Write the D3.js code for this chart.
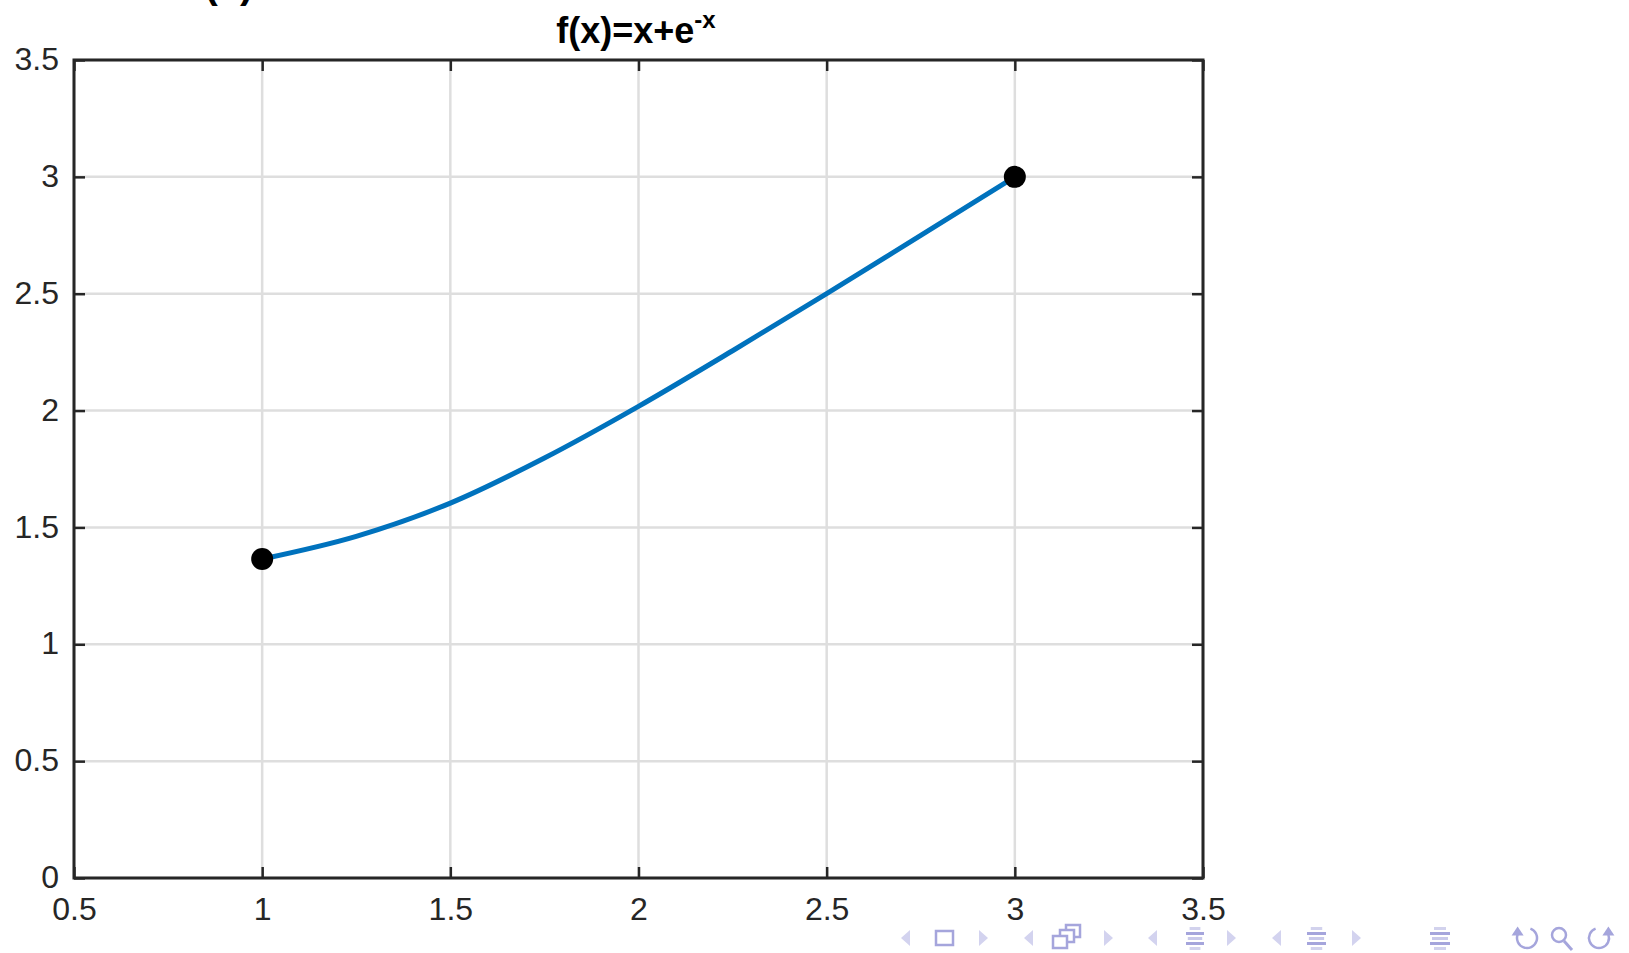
<!DOCTYPE html>
<html>
<head>
<meta charset="utf-8">
<script src="https://cdn.jsdelivr.net/npm/d3@7/dist/d3.min.js"></script>
<style>
  html, body { margin: 0; padding: 0; background: #ffffff; }
  svg { display: block; font-family: "Liberation Sans", Arial, Helvetica, sans-serif; }
</style>
</head>
<body>
<svg id="chart" width="1629" height="953"></svg>
<script>
// Axis ticks
const xTicks = [0.5, 1, 1.5, 2, 2.5, 3, 3.5];
const yTicks = [0, 0.5, 1, 1.5, 2, 2.5, 3, 3.5];
const xTickLabels = ["0.5", "1", "1.5", "2", "2.5", "3", "3.5"];
const yTickLabels = ["0", "0.5", "1", "1.5", "2", "2.5", "3", "3.5"];

// Curve samples f(x) on [1, 3]
const curveX = [1, 1.25, 1.5, 1.75, 2, 2.25, 2.5, 2.75, 3];
const curveY = [1.365, 1.462, 1.604, 1.797, 2.018, 2.256, 2.50, 2.75, 3.0];

// Interval endpoints
const endX = [1, 3];
const endY = [1.365, 3.0];

const svg = d3.select("#chart");
const plotLeft = 74, plotRight = 1203, plotTop = 60, plotBottom = 878;

const x = d3.scaleLinear().domain([0.5, 3.5]).range([plotLeft, plotRight]);
const y = d3.scaleLinear().domain([0, 3.5]).range([plotBottom, plotTop]);

const ink = "#262626";

// Heading from the slide above, cut by the page top
svg.append("text")
  .attr("x", 229).attr("y", -2)
  .attr("text-anchor", "middle")
  .attr("font-size", 40).attr("font-weight", "bold")
  .attr("fill", "#000")
  .text("(x)");

// Grid
const grid = svg.append("g");
grid.selectAll("line.gx").data(xTicks).join("line")
  .attr("x1", d => x(d)).attr("x2", d => x(d))
  .attr("y1", plotTop).attr("y2", plotBottom)
  .attr("stroke", "#dedede").attr("stroke-width", 2.5);
grid.selectAll("line.gy").data(yTicks).join("line")
  .attr("y1", d => y(d)).attr("y2", d => y(d))
  .attr("x1", plotLeft).attr("x2", plotRight)
  .attr("stroke", "#dedede").attr("stroke-width", 2.5);

// Curve
const pts = curveX.map((v, i) => [v, curveY[i]]);
svg.append("path")
  .datum(pts)
  .attr("fill", "none")
  .attr("stroke", "#0072BD")
  .attr("stroke-width", 5)
  .attr("stroke-linecap", "round")
  .attr("d", d3.line().x(d => x(d[0])).y(d => y(d[1])).curve(d3.curveMonotoneX));

// Endpoint markers
svg.selectAll("circle.end").data(endX.map((v, i) => [v, endY[i]])).join("circle")
  .attr("cx", d => x(d[0])).attr("cy", d => y(d[1]))
  .attr("r", 11).attr("fill", "#000");

// Axes with inward ticks on all four sides
const tickLen = 11;
const axisStyle = g => {
  g.select(".domain").remove();
  g.selectAll(".tick line").attr("stroke", ink).attr("stroke-width", 2.5);
};
svg.append("g").attr("transform", `translate(0,${plotBottom})`)
  .call(d3.axisBottom(x).tickValues(xTicks).tickSize(-tickLen).tickFormat((d, i) => xTickLabels[i]).tickPadding(19))
  .call(axisStyle)
  .call(g => g.selectAll("text").attr("font-size", 32).attr("fill", ink).attr("font-family", "Liberation Sans, Arial, sans-serif"));
svg.append("g").attr("transform", `translate(0,${plotTop})`)
  .call(d3.axisTop(x).tickValues(xTicks).tickSize(-tickLen).tickFormat(""))
  .call(axisStyle);
svg.append("g").attr("transform", `translate(${plotLeft},0)`)
  .call(d3.axisLeft(y).tickValues(yTicks).tickSize(-tickLen).tickFormat((d, i) => yTickLabels[i]).tickPadding(15))
  .call(axisStyle)
  .call(g => g.selectAll("text").attr("font-size", 32).attr("fill", ink).attr("font-family", "Liberation Sans, Arial, sans-serif").attr("dy", "0.3em"));
svg.append("g").attr("transform", `translate(${plotRight},0)`)
  .call(d3.axisRight(y).tickValues(yTicks).tickSize(-tickLen).tickFormat(""))
  .call(axisStyle);

// Box
svg.append("rect")
  .attr("x", plotLeft).attr("y", plotTop)
  .attr("width", plotRight - plotLeft).attr("height", plotBottom - plotTop)
  .attr("fill", "none").attr("stroke", ink).attr("stroke-width", 3);

// Title
const title = svg.append("text")
  .attr("x", 636).attr("y", 43)
  .attr("text-anchor", "middle")
  .attr("font-size", 36).attr("font-weight", "bold")
  .attr("fill", "#000");
title.append("tspan").text("f(x)=x+e");
title.append("tspan").attr("dy", -15).attr("font-size", 24).text("-x");

// Navigation symbols
const nav = svg.append("g");
const light = "#d3d3ef", mid = "#a5a5dc";
const cy = 938;
function triL(x0) {
  nav.append("path").attr("d", `M${x0 + 9},${cy - 8}L${x0},${cy}L${x0 + 9},${cy + 8}Z`).attr("fill", light);
}
function triR(x0) {
  nav.append("path").attr("d", `M${x0},${cy - 8}L${x0 + 9},${cy}L${x0},${cy + 8}Z`).attr("fill", light);
}
function bars(x0, w) {
  const rows = [[-11, 0.6, 0.5], [-6, 1, 1], [-1, 0.8, 0.6], [4, 1, 1], [9, 0.6, 0.5]];
  rows.forEach(([dy, fw, op]) => {
    nav.append("rect").attr("x", x0 + w * (1 - fw) / 2).attr("y", cy + dy)
      .attr("width", w * fw).attr("height", 3).attr("fill", mid).attr("opacity", op);
  });
}
triL(901);
nav.append("rect").attr("x", 936).attr("y", cy - 7).attr("width", 17).attr("height", 14)
  .attr("fill", "none").attr("stroke", mid).attr("stroke-width", 2.5);
triR(979);
triL(1024);
[[1066, cy - 13], [1060, cy - 8], [1053, cy - 2]].forEach(([a, b]) => {
  nav.append("rect").attr("x", a).attr("y", b).attr("width", 14).attr("height", 12)
    .attr("fill", "#fff").attr("stroke", mid).attr("stroke-width", 2.5);
});
triR(1104);
triL(1148);
bars(1186, 18);
triR(1227);
triL(1272);
bars(1307, 19);
triR(1352);
bars(1430, 20);

// Circular arrows: arc open at the top, arrowhead on one end
function circArrow(cx0, mirror) {
  const r = 10;
  const pt = a => {
    const rad = a * Math.PI / 180;
    const px = r * Math.cos(rad);
    return [cx0 + (mirror ? -px : px), cy + r * Math.sin(rad)];
  };
  const [sx, sy] = pt(290), [ex, ey] = pt(200);
  nav.append("path")
    .attr("d", `M${sx},${sy} A${r},${r} 0 1 ${mirror ? 0 : 1} ${ex},${ey}`)
    .attr("fill", "none").attr("stroke", mid).attr("stroke-width", 2.5);
  const s = mirror ? -1 : 1;
  nav.append("path")
    .attr("d", `M${ex - 6 * s},${ey + 1}L${ex + 6 * s},${ey + 1}L${ex},${ey - 8}Z`)
    .attr("fill", mid);
}
circArrow(1527, false);
// magnifier
nav.append("circle").attr("cx", 1559).attr("cy", cy - 3).attr("r", 7)
  .attr("fill", "none").attr("stroke", mid).attr("stroke-width", 2.5);
nav.append("line").attr("x1", 1564).attr("y1", cy + 3).attr("x2", 1572).attr("y2", cy + 12)
  .attr("stroke", mid).attr("stroke-width", 3);
circArrow(1599, true);
</script>
</body>
</html>
